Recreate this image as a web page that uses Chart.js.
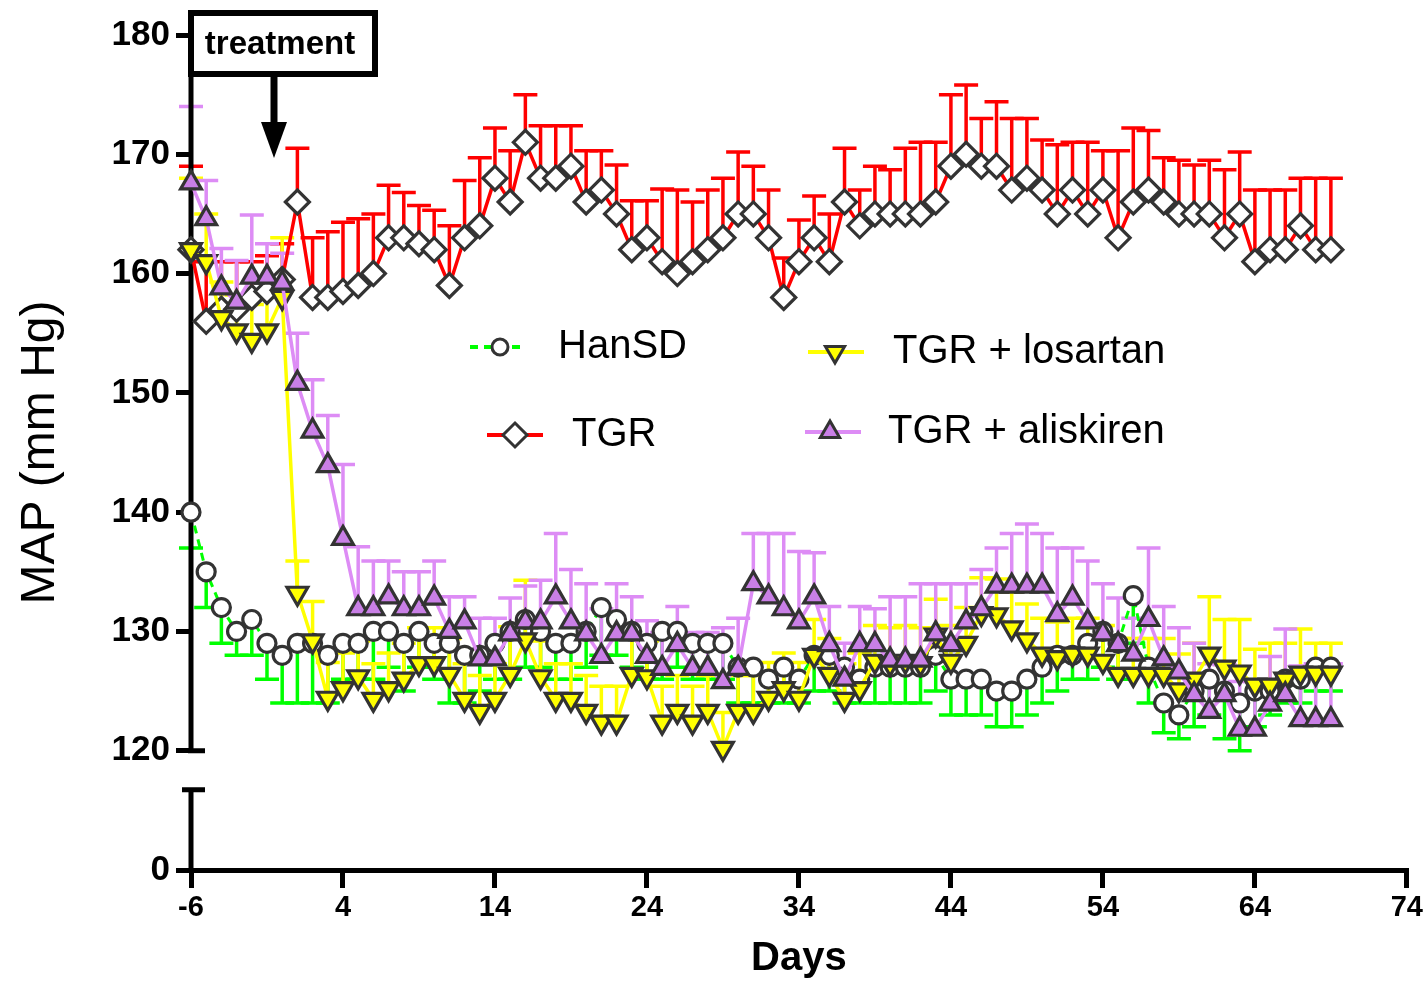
<!DOCTYPE html>
<html>
<head>
<meta charset="utf-8">
<script src="https://cdn.jsdelivr.net/npm/chart.js@4.4.1/dist/chart.umd.min.js"></script>
<style>
  html, body { margin: 0; padding: 0; background: #fff; }
  #wrap { width: 1426px; height: 983px; }
</style>
</head>
<body>
<div id="wrap"><canvas id="mapChart" width="1426" height="983"></canvas></div>
<script>
// --- Data (MAP in mm Hg, one reading per day) ---
const days = [-6, -5, -4, -3, -2, -1, 0,
  1, 2, 3, 4, 5, 6, 7, 8, 9, 10,
  11, 12, 13, 14, 15, 16, 17, 18, 19, 20,
  21, 22, 23, 24, 25, 26, 27, 28, 29, 30,
  31, 32, 33, 34, 35, 36, 37, 38, 39, 40,
  41, 42, 43, 44, 45, 46, 47, 48, 49, 50,
  51, 52, 53, 54, 55, 56, 57, 58, 59, 60,
  61, 62, 63, 64, 65, 66, 67, 68, 69];

const xTicks = [-6, 4, 14, 24, 34, 44, 54, 64, 74];
// broken axis: the lowest tick stands for 0
const yTicks = [110, 120, 130, 140, 150, 160, 170, 180];
const yTickLabels = ['0', '120', '130', '140', '150', '160', '170', '180'];

const hanSD = [140, 135, 132, 130, 131, 129, 128,
  129, 129, 128, 129, 129, 130, 130, 129, 130, 129,
  129, 128, 128, 129, 130, 131, 130, 129, 129, 130,
  132, 131, 130, 129, 130, 130, 129, 129, 129, 127,
  127, 126, 127, 126, 128, 128, 127, 126, 127, 127,
  127, 127, 128, 126, 126, 126, 125, 125, 126, 127,
  128, 128, 129, 130, 129, 133, 127, 124, 123, 125,
  126, 125, 124, 125, 125, 126, 126, 127, 127];
const hanSDErr = [3, 3, 3, 2, 3, 3, 4,
  5, 5, 4, 3, 3, 4, 3, 4, 3, 3,
  5, 4, 3, 3, 4, 4, 3, 3, 3, 3,
  4, 3, 3, 3, 4, 3, 3, 3, 3, 3,
  3, 2, 3, 2, 3, 3, 3, 2, 3, 3,
  3, 3, 3, 3, 3, 3, 3, 3, 3, 3,
  3, 2, 3, 3, 3, 4, 3, 2.5, 2, 3,
  3, 4, 4, 3, 2, 2, 2, 2, 2];

const tgr = [162, 156, 157, 157, 158, 158.5, 159.5,
  166, 158, 158, 158.5, 159, 160, 163, 163, 162.5, 162,
  159, 163, 164, 168, 166, 171, 168, 168, 169, 166,
  167, 165, 162, 163, 161, 160, 161, 162, 163, 165,
  165, 163, 158, 161, 163, 161, 166, 164, 165, 165,
  165, 165, 166, 169, 170, 169, 169, 167, 168, 167,
  165, 167, 165, 167, 163, 166, 167, 166, 165, 165,
  165, 163, 165, 161, 162, 162, 164, 162, 162];
const tgrErr = [7, 5, 4, 4, 3, 3, 3,
  4.5, 5, 5.5, 5.8, 5.6, 5, 4.4, 3.8, 3.2, 3.3,
  5, 4.8, 5.7, 4.2, 4.3, 4, 4.4, 4.4, 3.4, 4.3,
  3.3, 4.1, 4.1, 3.1, 6.1, 7, 5, 5, 5, 5.2,
  4, 4, 3.3, 3.5, 3.5, 4, 4.5, 3, 4, 3.7,
  5.5, 6, 5, 6, 5.8, 4, 5.4, 6, 5, 4.2,
  5.8, 4, 6, 3.3, 7.3, 6.2, 5, 3.7, 4.5, 4.1,
  4.5, 5.7, 5.2, 6, 5, 5, 4, 6, 6];

const losartan = [162, 161, 156.3, 155.2, 154.4, 155.2, 158,
  133.2, 129.2, 124.4, 125.2, 126.2, 124.3, 125.2, 126, 127.3, 127.3,
  126.4, 124.3, 123.3, 124.3, 126.4, 129.3, 126.2, 124.3, 124.3, 123.3,
  122.4, 122.4, 126.4, 126.2, 122.4, 123.3, 122.4, 123.3, 120.2, 123.3,
  123.3, 124.4, 125.2, 124.4, 128, 126.4, 124.3, 125.2, 127.5, 127.3,
  127.5, 127.3, 129.7, 127.5, 129, 131.5, 131.4, 130.3, 129.3, 128.1,
  127.8, 128.1, 128.1, 127.5, 126.4, 126.4, 126.4, 126.4, 125.1, 126,
  128.1, 127, 126.6, 125.5, 125.5, 126, 126.5, 126.5, 126.5];
const losartanErr = [6, 4, 3, 3, 3, 3, 5,
  2.7, 3.3, 3, 3, 3, 3, 3, 3, 3, 3,
  3, 3, 3, 3, 4, 5, 3, 3, 3, 3,
  3, 3, 3, 3, 3, 3, 3, 3, 3, 3,
  3, 3, 3, 3, 3, 3, 3, 3, 3, 3,
  3, 3, 3, 3, 3, 3, 3, 3, 3, 3,
  3, 3, 3, 3, 3, 3, 3, 3, 3, 3,
  4.8, 4, 4.4, 3, 3.5, 3, 3.7, 2.5, 2.5];

const aliskiren = [167.6, 164.6, 158.8, 157.6, 159.7, 159.7, 159.2,
  150.8, 146.8, 143.9, 137.8, 131.9, 131.9, 132.9, 131.9, 131.9, 132.8,
  130, 130.8, 127.7, 127.7, 129.8, 130.8, 130.8, 132.9, 130.8, 129.8,
  127.9, 129.8, 129.8, 127.9, 126.9, 128.9, 126.9, 126.9, 125.8, 126.9,
  134, 132.9, 131.9, 130.8, 132.9, 128.9, 126, 128.9, 128.9, 127.6,
  127.6, 127.6, 129.8, 128.9, 130.8, 131.9, 133.8, 133.8, 133.8, 133.8,
  131.4, 132.8, 130.8, 129.8, 128.9, 128.1, 131, 127.7, 126.6, 124.7,
  123.3, 124.7, 121.8, 121.8, 123.9, 124.7, 122.6, 122.6, 122.6];
const aliskirenErr = [6.4, 3.2, 3.3, 3.5, 5.2, 2.8, 2.5,
  4.2, 4.3, 4.2, 6.2, 5.2, 4, 3, 3.1, 3.1, 3.1,
  2.9, 2.1, 3.4, 3.4, 3, 3, 3.5, 5.3, 4.4, 4.2,
  4, 4.2, 3.1, 3, 3, 3.2, 3, 3, 4.5, 4.2,
  4.2, 5.3, 6.3, 5.9, 3.7, 3.2, 3, 3.2, 3, 5.3,
  5.3, 6.4, 4.2, 5.1, 3.2, 3.3, 3.2, 4.4, 5.2, 4.4,
  5.6, 4.2, 5.1, 4.2, 3.9, 3, 6, 4.4, 3.7, 4.3,
  4, 2.5, 4, 4, 4, 5.5, 4.5, 4.7, 4.7];

// --- Styles ---
const MARK = '#333333';
const C_GREEN = '#00ff00';
const C_RED = '#ff0000';
const C_YELLOW = '#ffff00';
const C_PURPLE = '#dd8cf5';
const C_PURPLE_FILL = '#c97fe6';
const FONT = "'Liberation Sans', Arial, Helvetica, sans-serif";
const NARROW = "'Liberation Sans Narrow', 'Arial Narrow', 'Liberation Sans', Arial, sans-serif";

function pts(vals) {
  return days.map((d, i) => ({ x: d, y: vals[i] }));
}

// --- Error bars (SEM, one side only) ---
const errorBars = {
  id: 'errorBars',
  beforeDatasetsDraw(chart) {
    const { ctx } = chart;
    const xs = chart.scales.x, ys = chart.scales.y;
    for (let i = chart.data.datasets.length - 1; i >= 0; i--) {
      const ds = chart.data.datasets[i];
      if (!ds.errors) continue;
      ctx.save();
      ctx.strokeStyle = ds.borderColor;
      ctx.lineWidth = 3.5;
      ctx.setLineDash([]);
      ds.data.forEach((p, j) => {
        const px = xs.getPixelForValue(p.x);
        const py0 = ys.getPixelForValue(p.y);
        const py1 = ys.getPixelForValue(p.y + ds.errDir * ds.errors[j]);
        ctx.beginPath();
        ctx.moveTo(px, py0);
        ctx.lineTo(px, py1);
        ctx.moveTo(px - 12, py1);
        ctx.lineTo(px + 12, py1);
        ctx.stroke();
      });
      ctx.restore();
    }
  }
};

// --- Broken y axis line ---
const brokenAxis = {
  id: 'brokenAxis',
  beforeDatasetsDraw(chart) {
    const { ctx } = chart;
    const xs = chart.scales.x, ys = chart.scales.y;
    const ax = xs.getPixelForValue(-6);
    const top = ys.getPixelForValue(180);
    const low = ys.getPixelForValue(120);
    const bottom = ys.getPixelForValue(110);
    const restart = low + 39;
    ctx.save();
    ctx.strokeStyle = '#000';
    ctx.lineWidth = 5;
    ctx.beginPath();
    ctx.moveTo(ax, top - 3);
    ctx.lineTo(ax, low);
    ctx.moveTo(ax - 3, low);
    ctx.lineTo(ax + 14, low);
    ctx.moveTo(ax, restart);
    ctx.lineTo(ax, bottom);
    ctx.moveTo(ax - 9, restart);
    ctx.lineTo(ax + 14, restart);
    ctx.stroke();
    ctx.restore();
  }
};

function marker(ctx, style, x, y, r, fill) {
  ctx.save();
  ctx.fillStyle = fill;
  ctx.strokeStyle = MARK;
  ctx.lineWidth = 3;
  ctx.setLineDash([]);
  ctx.beginPath();
  if (style === 'circle') {
    ctx.arc(x, y, r, 0, Math.PI * 2);
  } else if (style === 'diamond') {
    ctx.moveTo(x, y - r); ctx.lineTo(x + r, y); ctx.lineTo(x, y + r); ctx.lineTo(x - r, y);
    ctx.closePath();
  } else if (style === 'up') {
    ctx.moveTo(x, y - r); ctx.lineTo(x + r * 0.87, y + r * 0.5); ctx.lineTo(x - r * 0.87, y + r * 0.5);
    ctx.closePath();
  } else {
    ctx.moveTo(x, y + r); ctx.lineTo(x + r * 0.87, y - r * 0.5); ctx.lineTo(x - r * 0.87, y - r * 0.5);
    ctx.closePath();
  }
  ctx.fill();
  ctx.stroke();
  ctx.restore();
}

// --- Legend and treatment annotation ---
const overlay = {
  id: 'overlay',
  afterDraw(chart) {
    const { ctx } = chart;
    const items = [
      { label: 'HanSD', x: 470, y: 347, color: C_GREEN, dash: [8, 6], style: 'circle', fill: '#fff', r: 8, mx: 500, tx: 558 },
      { label: 'TGR', x: 487, y: 435, color: C_RED, dash: [], style: 'diamond', fill: '#fff', r: 12, mx: 515, tx: 572 },
      { label: 'TGR + losartan', x: 808, y: 352, color: C_YELLOW, dash: [], style: 'down', fill: C_YELLOW, r: 11, mx: 835, tx: 893 },
      { label: 'TGR + aliskiren', x: 805, y: 432, color: C_PURPLE, dash: [], style: 'up', fill: C_PURPLE_FILL, r: 11, mx: 830, tx: 888 }
    ];
    items.forEach(it => {
      ctx.save();
      ctx.strokeStyle = it.color;
      ctx.lineWidth = 4;
      ctx.setLineDash(it.dash);
      ctx.beginPath();
      ctx.moveTo(it.x, it.y);
      ctx.lineTo(it.x + 56, it.y);
      ctx.stroke();
      ctx.restore();
      marker(ctx, it.style, it.mx, it.y, it.r, it.fill);
      ctx.save();
      ctx.fillStyle = '#000';
      ctx.font = '40px ' + FONT;
      ctx.textBaseline = 'middle';
      ctx.textAlign = 'left';
      ctx.fillText(it.label, it.tx, it.y);
      ctx.restore();
    });

    // treatment box with arrow
    ctx.save();
    ctx.fillStyle = '#fff';
    ctx.fillRect(191, 13, 184, 61);
    ctx.strokeStyle = '#000';
    ctx.lineWidth = 6;
    ctx.strokeRect(191, 13, 184, 61);
    ctx.fillStyle = '#000';
    ctx.font = 'bold 33px ' + FONT;
    ctx.textAlign = 'center';
    ctx.textBaseline = 'middle';
    ctx.fillText('treatment', 280, 45);
    ctx.lineWidth = 7;
    ctx.beginPath();
    ctx.moveTo(274, 76);
    ctx.lineTo(274, 126);
    ctx.stroke();
    ctx.beginPath();
    ctx.moveTo(261, 122);
    ctx.lineTo(287, 122);
    ctx.lineTo(274, 158);
    ctx.closePath();
    ctx.fill();
    ctx.restore();
  }
};

const lineBase = {
  borderWidth: 3.5,
  pointBorderColor: MARK,
  pointBorderWidth: 3.2,
  pointHoverRadius: 0,
  tension: 0,
  clip: false
};

const datasets = [
  Object.assign({}, lineBase, {
    label: 'TGR + aliskiren', data: pts(aliskiren), errors: aliskirenErr, errDir: 1,
    borderColor: C_PURPLE, pointStyle: 'triangle', pointRadius: 12,
    pointBackgroundColor: C_PURPLE_FILL
  }),
  Object.assign({}, lineBase, {
    label: 'TGR + losartan', data: pts(losartan), errors: losartanErr, errDir: 1,
    borderColor: C_YELLOW, pointStyle: 'triangle', pointRotation: 180, pointRadius: 12,
    pointBackgroundColor: C_YELLOW
  }),
  Object.assign({}, lineBase, {
    label: 'HanSD', data: pts(hanSD), errors: hanSDErr, errDir: -1,
    borderColor: C_GREEN, borderWidth: 3, borderDash: [8, 6], pointStyle: 'circle', pointRadius: 9,
    pointBackgroundColor: '#fff'
  }),
  Object.assign({}, lineBase, {
    label: 'TGR', data: pts(tgr), errors: tgrErr, errDir: 1,
    borderColor: C_RED, pointStyle: 'rectRot', pointRadius: 12,
    pointBackgroundColor: '#fff'
  })
];

new Chart(document.getElementById('mapChart'), {
  type: 'line',
  data: { datasets: datasets },
  options: {
    responsive: false,
    animation: false,
    devicePixelRatio: 1,
    layout: { padding: { top: 35, right: 18, bottom: 0, left: 0 } },
    plugins: {
      legend: { display: false },
      tooltip: { enabled: false }
    },
    scales: {
      x: {
        type: 'linear',
        min: -6,
        max: 74,
        afterBuildTicks: s => { s.ticks = xTicks.map(v => ({ value: v })); },
        afterFit: s => { s.height = 113; },
        grid: { display: true, drawOnChartArea: false, drawTicks: true, tickLength: 18, lineWidth: 5, color: '#000' },
        border: { display: true, width: 5, color: '#000' },
        ticks: {
          autoSkip: false, maxRotation: 0, padding: 3, color: '#000',
          font: { family: NARROW, size: 29, weight: 'bold' }
        },
        title: {
          display: true, text: 'Days', color: '#000',
          font: { family: FONT, size: 40, weight: 'bold' },
          padding: { top: 0, bottom: 0 }
        }
      },
      y: {
        type: 'linear',
        min: 110,
        max: 180,
        afterBuildTicks: s => { s.ticks = yTicks.map(v => ({ value: v })); },
        afterFit: s => { s.width = 191; },
        grid: { display: true, drawOnChartArea: false, drawTicks: true, tickLength: 15, lineWidth: 5, color: '#000' },
        border: { display: false },
        ticks: {
          padding: 6, color: '#000',
          font: { family: FONT, size: 35, weight: 'bold' },
          callback: v => yTickLabels[yTicks.indexOf(v)]
        },
        title: {
          display: true, text: 'MAP (mm Hg)', color: '#000',
          font: { family: FONT, size: 48, weight: 'normal' },
          padding: { top: 12, bottom: 0 }
        }
      }
    }
  },
  plugins: [errorBars, brokenAxis, overlay]
});
</script>
</body>
</html>
